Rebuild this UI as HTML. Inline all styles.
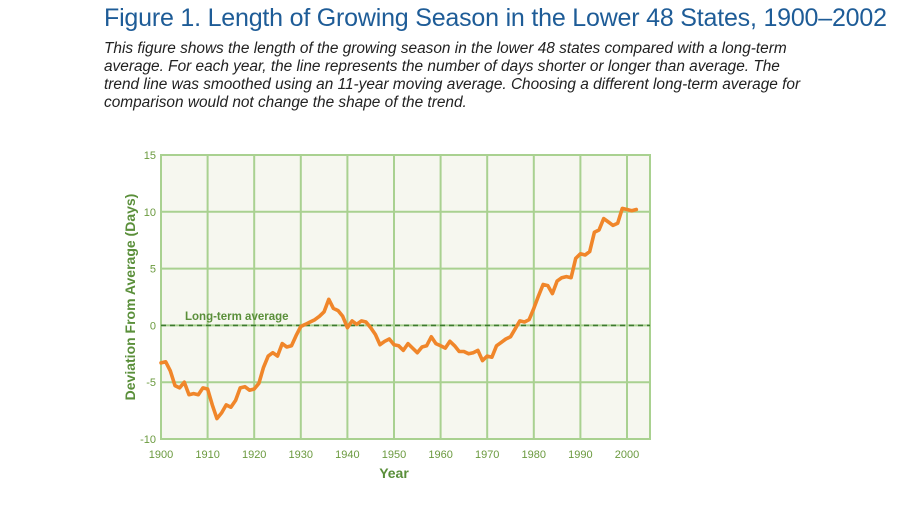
<!DOCTYPE html>
<html><head><meta charset="utf-8"><style>
body{margin:0;width:900px;height:506px;background:#fff;overflow:hidden;font-family:"Liberation Sans",sans-serif;}
#title{position:absolute;left:104px;top:4px;font-size:25px;color:#1e5c97;white-space:nowrap;letter-spacing:-0.2px}
#desc{position:absolute;left:104px;top:40px;width:760px;font-size:15.4px;font-style:italic;line-height:18px;color:#222;white-space:nowrap}
</style></head><body>
<div id="title">Figure 1. Length of Growing Season in the Lower 48 States, 1900–2002</div>
<div id="desc">This figure shows the length of the growing season in the lower 48 states compared with a long-term<br>average. For each year, the line represents the number of days shorter or longer than average. The<br>trend line was smoothed using an 11-year moving average. Choosing a different long-term average for<br>comparison would not change the shape of the trend.</div>
<svg id="chart" width="900" height="506" style="position:absolute;left:0;top:0"></svg>
<script>
const years=[];for(let y=1900;y<=2002;y++)years.push(y);
const deviation=[-3.3,-3.2,-4.0,-5.3,-5.5,-5.0,-6.1,-6.0,-6.1,-5.5,-5.6,-7.0,-8.2,-7.7,-7.0,-7.2,-6.6,-5.5,-5.4,-5.7,
-5.6,-5.1,-3.7,-2.7,-2.4,-2.7,-1.6,-1.9,-1.8,-0.9,-0.1,0.1,0.3,0.5,0.8,1.2,2.3,1.5,1.3,0.8,
-0.2,0.4,0.1,0.4,0.3,-0.2,-0.8,-1.7,-1.4,-1.2,-1.7,-1.8,-2.2,-1.6,-2.0,-2.4,-1.9,-1.8,-1.0,-1.6,
-1.8,-2.0,-1.4,-1.8,-2.3,-2.3,-2.5,-2.4,-2.2,-3.1,-2.7,-2.8,-1.8,-1.5,-1.2,-1.0,-0.3,0.4,0.3,0.5,
1.5,2.6,3.6,3.5,2.8,3.9,4.2,4.3,4.2,5.9,6.3,6.2,6.5,8.2,8.4,9.4,9.1,8.8,9.0,10.3,10.2,10.1,10.2];
const xTicks=[1900,1910,1920,1930,1940,1950,1960,1970,1980,1990,2000];
const yTicks=[-10,-5,0,5,10,15];
const X0=161,X1=650,Y0=155,Y1=439;
const xs=y=>X0+(y-1900)*(627-161)/100;
const ys=v=>Y1-(v+10)*(Y1-Y0)/25;
const svg=document.getElementById('chart');const NS='http://www.w3.org/2000/svg';
function mk(t,a,p){const e=document.createElementNS(NS,t);for(const k in a)e.setAttribute(k,a[k]);(p||svg).appendChild(e);return e;}
const bg=mk('rect',{x:X0,y:Y0,width:X1-X0,height:Y1-Y0,fill:'#f6f7ef',stroke:'#a9d190','stroke-width':2});


xTicks.forEach(t=>{
 const l=mk('line',{x1:xs(t),x2:xs(t),y1:Y0,y2:Y1,stroke:'#a9d190','stroke-width':2});
 
 
 const tx=mk('text',{x:xs(t),y:Y1+19,'text-anchor':'middle','font-size':11,fill:'#6b9a3f','font-family':'Liberation Sans Narrow, Liberation Sans, sans-serif'});
 tx.textContent=t;
 
 
});
yTicks.forEach(t=>{
 const l=mk('line',{x1:X0,x2:X1,y1:ys(t),y2:ys(t),stroke:'#a9d190','stroke-width':2});
 
 
 const tx=mk('text',{x:X0-5,y:ys(t)+4,'text-anchor':'end','font-size':11,fill:'#6b9a3f','font-family':'Liberation Sans Narrow, Liberation Sans, sans-serif'});
 tx.textContent=t;
 
 
});
const avg=mk('line',{x1:X0,x2:X1,y1:ys(0),y2:ys(0),stroke:'#3d7a2e','stroke-width':1.6,'stroke-dasharray':'5,4'});


const al=mk('text',{x:185,y:320,'font-size':11.5,'font-weight':'bold',fill:'#5a8f3a','font-family':'Liberation Sans Narrow, Liberation Sans, sans-serif'});
al.textContent='Long-term average';


const d=years.map((y,i)=>(i?'L':'M')+xs(y).toFixed(1)+','+ys(deviation[i]).toFixed(1)).join('');
const line=mk('path',{d:d,fill:'none',stroke:'#f0862a','stroke-width':3.6,'stroke-linejoin':'round','stroke-linecap':'round'});


const xt=mk('text',{x:394,y:478,'text-anchor':'middle','font-size':14,'font-weight':'bold',fill:'#5a8f3a','font-family':'Liberation Sans Narrow, Liberation Sans, sans-serif'});
xt.textContent='Year';


const yt=mk('text',{x:0,y:0,transform:'translate(135,297) rotate(-90)','text-anchor':'middle','font-size':14,'font-weight':'bold',fill:'#5a8f3a','font-family':'Liberation Sans Narrow, Liberation Sans, sans-serif'});
yt.textContent='Deviation From Average (Days)';


</script>
</body></html>
